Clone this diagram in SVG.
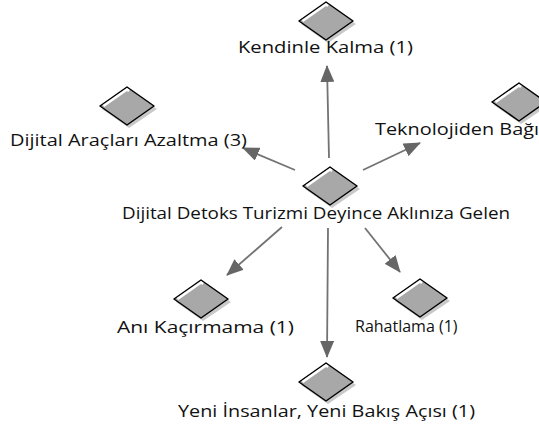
<svg xmlns="http://www.w3.org/2000/svg" xmlns:xlink="http://www.w3.org/1999/xlink" width="539" height="425" viewBox="0 0 539 425">
<style>
.lbl{font-family:"Open Sans","Noto Sans","DejaVu Sans",sans-serif;font-size:15.5px;fill:#111}
.conn{stroke:#737373;stroke-width:1.8;fill:none;marker-end:url(#arr)}
</style>
<defs>
<marker id="arr" markerUnits="userSpaceOnUse" markerWidth="17" markerHeight="14" refX="16" refY="7" orient="auto">
<path d="M0,0 L17,7 L0,14 z" fill="#666"/>
</marker>
<g id="dia">
<polygon points="-25,3 2,-16 30,3 2,22" fill="#c9c9c9"/>
<polygon points="-27,0 0,-19 27,0 0,19" fill="#a8a8a8" stroke="#000" stroke-width="1.5" stroke-linejoin="round"/>
<polyline points="-23.5,0 0,-16.5 2,-15" fill="none" stroke="#fff" stroke-width="2.5"/>
</g>
</defs>
<rect width="539" height="425" fill="#fff"/>
<g id="connectors">
<line class="conn" x1="329" y1="158" x2="327" y2="66"/>
<line class="conn" x1="295" y1="170" x2="243" y2="148"/>
<line class="conn" x1="363" y1="170" x2="420" y2="143"/>
<line class="conn" x1="282" y1="227" x2="227" y2="275"/>
<line class="conn" x1="365" y1="228" x2="400" y2="272"/>
<line class="conn" x1="328" y1="228" x2="327" y2="357"/>
</g>
<g id="node-center">
<use xlink:href="#dia" x="330" y="186"/>
<text class="lbl" x="122" y="219" textLength="388" lengthAdjust="spacingAndGlyphs">Dijital Detoks Turizmi Deyince Aklınıza Gelen</text>
</g>
<g id="node-kendinle">
<use xlink:href="#dia" x="326" y="21"/>
<text class="lbl" x="238" y="53" textLength="175" lengthAdjust="spacingAndGlyphs">Kendinle Kalma (1)</text>
</g>
<g id="node-araclari">
<use xlink:href="#dia" x="127" y="106"/>
<text class="lbl" x="10" y="146" textLength="237" lengthAdjust="spacingAndGlyphs">Dijital Araçları Azaltma (3)</text>
</g>
<g id="node-teknoloji">
<use xlink:href="#dia" x="519" y="102"/>
<text class="lbl" x="375" y="135" textLength="164" lengthAdjust="spacingAndGlyphs">Teknolojiden Bağı</text>
</g>
<g id="node-ani">
<use xlink:href="#dia" x="201" y="299"/>
<text class="lbl" x="117" y="333" textLength="177" lengthAdjust="spacingAndGlyphs">Anı Kaçırmama (1)</text>
</g>
<g id="node-rahatlama">
<use xlink:href="#dia" x="420" y="298"/>
<text class="lbl" x="355" y="332" style="font-size:16px">Rahatlama (1)</text>
</g>
<g id="node-yeni">
<use xlink:href="#dia" x="326" y="382"/>
<text class="lbl" x="178" y="417" textLength="297" lengthAdjust="spacingAndGlyphs">Yeni İnsanlar, Yeni Bakış Açısı (1)</text>
</g>
</svg>
